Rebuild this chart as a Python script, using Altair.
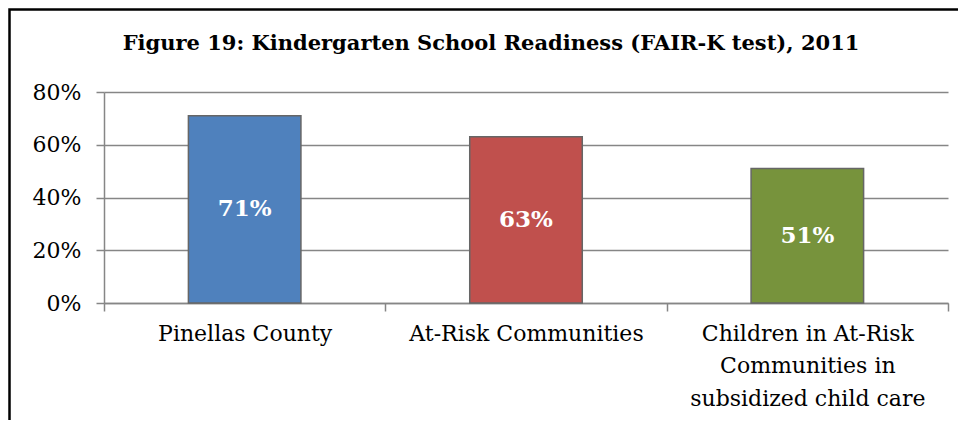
import altair as alt
import pandas as pd

categories = ["Pinellas County", "At-Risk Communities", "Children in At-Risk|Communities in|subsidized child care"]
values = [0.71, 0.63, 0.51]
colors = ["#4F81BD", "#C0504D", "#77933C"]
title_text = "Figure 19: Kindergarten School Readiness (FAIR-K test), 2011"
y_ticks = [0, 0.2, 0.4, 0.6, 0.8]

df = pd.DataFrame({"category": categories, "value": values, "label": [f"{round(v*100)}%" for v in values]})
one = pd.DataFrame({"t": [title_text]})

FONT = "DejaVu Serif"
W, H = 844, 211

x = alt.X("category:N", sort=categories, title=None,
          scale=alt.Scale(paddingInner=0, paddingOuter=0),
          axis=alt.Axis(labelExpr="split(datum.label, '|')", labelAngle=0, labelFont=FONT,
                        labelFontSize=22, labelColor="black", labelLineHeight=32.5, labelLimit=0,
                        labelPadding=12, tickBand="extent", tickSize=8, tickColor="#868686",
                        domainColor="#868686", domainWidth=1.5, tickWidth=1.5, grid=False,
                        labelBaseline="top"))

y = alt.Y("value:Q", title=None,
          scale=alt.Scale(domain=[0, 0.8], nice=False),
          axis=alt.Axis(values=y_ticks, format=".0%", labelFont=FONT, labelFontSize=22,
                        labelColor="black", labelPadding=15, tickSize=8, tickColor="#868686",
                        tickWidth=1.5, domainColor="#868686", domainWidth=1.5,
                        grid=True, gridColor="#868686", gridWidth=1.5))

bars = alt.Chart(df).mark_bar(stroke="#666666", strokeWidth=1.5,
                              width=alt.RelativeBandSize(0.4)).encode(
    x=x, y=y,
    color=alt.Color("category:N", scale=alt.Scale(domain=categories, range=colors), legend=None),
)

labels = alt.Chart(df).transform_calculate(mid="datum.value / 2").mark_text(
    font=FONT, fontSize=23, fontWeight="bold", color="white", baseline="middle"
).encode(x=alt.X("category:N", sort=categories), y=alt.Y("mid:Q"), text="label:N")

title = alt.Chart(one).mark_text(font=FONT, fontSize=21, fontWeight="bold", color="black",
                                 baseline="alphabetic", align="center").encode(
    text="t:N", x=alt.value(387), y=alt.value(-42))

border = alt.Chart(one).mark_rect(fill=None, stroke="black", strokeWidth=2.5).encode(
    x=alt.value(-94.5), x2=alt.value(880), y=alt.value(-82.5), y2=alt.value(400))

chart = alt.layer(border, bars, labels, title).properties(
    width=W, height=H,
    autosize=alt.AutoSizeParams(type="none"),
    padding={"left": 96, "top": 84, "right": 10, "bottom": 117},
).configure_view(stroke=None)

chart.save("out.html", embed_options={"renderer": "svg", "actions": False})
